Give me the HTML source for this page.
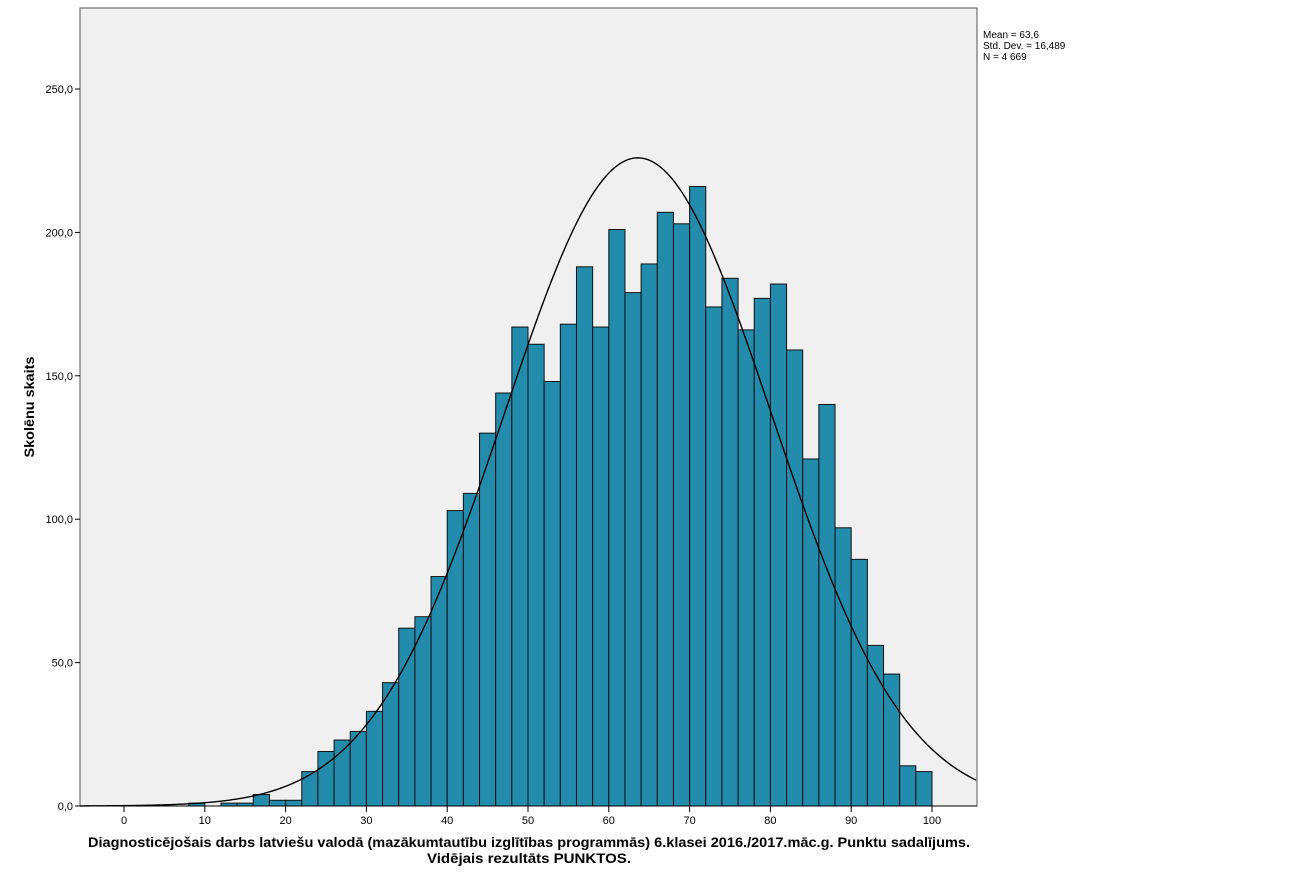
<!DOCTYPE html>
<html><head><meta charset="utf-8"><style>
body{margin:0;background:#fff;}
svg{display:block;font-family:"Liberation Sans",sans-serif;}
</style></head><body>
<svg width="1303" height="883" viewBox="0 0 1303 883" xmlns="http://www.w3.org/2000/svg">
<rect x="80" y="8" width="897" height="798" fill="#f0f0f0" stroke="#555" stroke-width="1"/>
<g id="bars" fill="#238bab" stroke="#111" stroke-width="1"></g>
<path id="curve" fill="none" stroke="#000" stroke-width="1.4"/>
<line x1="80" y1="806" x2="977" y2="806" stroke="#000"/>
<g id="ticks" stroke="#000"></g>
<g id="labels" font-size="11" fill="#000"></g>
<text x="983" y="38" font-size="10">Mean = 63,6</text>
<text x="983" y="49" font-size="10">Std. Dev. = 16,489</text>
<text x="983" y="60" font-size="10">N = 4 669</text>
<text transform="translate(34,407) rotate(-90)" text-anchor="middle" font-size="14" font-weight="bold" textLength="101" lengthAdjust="spacingAndGlyphs">Skolēnu skaits</text>
<text x="88" y="847" font-size="14" font-weight="bold" textLength="882" lengthAdjust="spacingAndGlyphs">Diagnosticējošais darbs latviešu valodā (mazākumtautību izglītības programmās) 6.klasei 2016./2017.māc.g. Punktu sadalījums.</text>
<text x="427" y="863" font-size="14" font-weight="bold" textLength="204" lengthAdjust="spacingAndGlyphs">Vidējais rezultāts PUNKTOS.</text>
</svg>
<script>
const ns="http://www.w3.org/2000/svg";
const X=v=>124+8.08*v, Y=c=>806-2.868*c;
const data={8:1,12:1,14:1,16:4,18:2,20:2,22:12,24:19,26:23,28:26,30:33,32:43,34:62,36:66,38:80,40:103,42:109,44:130,46:144,48:167,50:161,52:148,54:168,56:188,58:167,60:201,62:179,64:189,66:207,68:203,70:216,72:174,74:184,76:166,78:177,80:182,82:159,84:121,86:140,88:97,90:86,92:56,94:46,96:14,98:12};
const g=document.getElementById('bars');
for(const k in data){const v=+k,c=data[k];const r=document.createElementNS(ns,'rect');
r.setAttribute('x',X(v));r.setAttribute('y',Y(c));r.setAttribute('width',8.08*2);r.setAttribute('height',2.868*c);g.appendChild(r);}
let d='';for(let px=80;px<=977;px+=2){const v=(px-124)/8.08;const c=226*Math.exp(-0.5*Math.pow((v-63.6)/16.489,2));d+=(px==80?'M':'L')+px+','+Y(c).toFixed(2);}
document.getElementById('curve').setAttribute('d',d);
const t=document.getElementById('ticks'),l=document.getElementById('labels');
for(let v=0;v<=100;v+=10){const ln=document.createElementNS(ns,'line');ln.setAttribute('x1',X(v));ln.setAttribute('x2',X(v));ln.setAttribute('y1',806);ln.setAttribute('y2',812);t.appendChild(ln);
const tx=document.createElementNS(ns,'text');tx.setAttribute('x',X(v));tx.setAttribute('y',824);tx.setAttribute('text-anchor','middle');tx.textContent=v;l.appendChild(tx);}
for(let c=0;c<=250;c+=50){const ln=document.createElementNS(ns,'line');ln.setAttribute('x1',75);ln.setAttribute('x2',80);ln.setAttribute('y1',Y(c));ln.setAttribute('y2',Y(c));t.appendChild(ln);
const tx=document.createElementNS(ns,'text');tx.setAttribute('x',73);tx.setAttribute('y',Y(c)+4);tx.setAttribute('text-anchor','end');tx.textContent=c+',0';l.appendChild(tx);}
</script>
</body></html>
